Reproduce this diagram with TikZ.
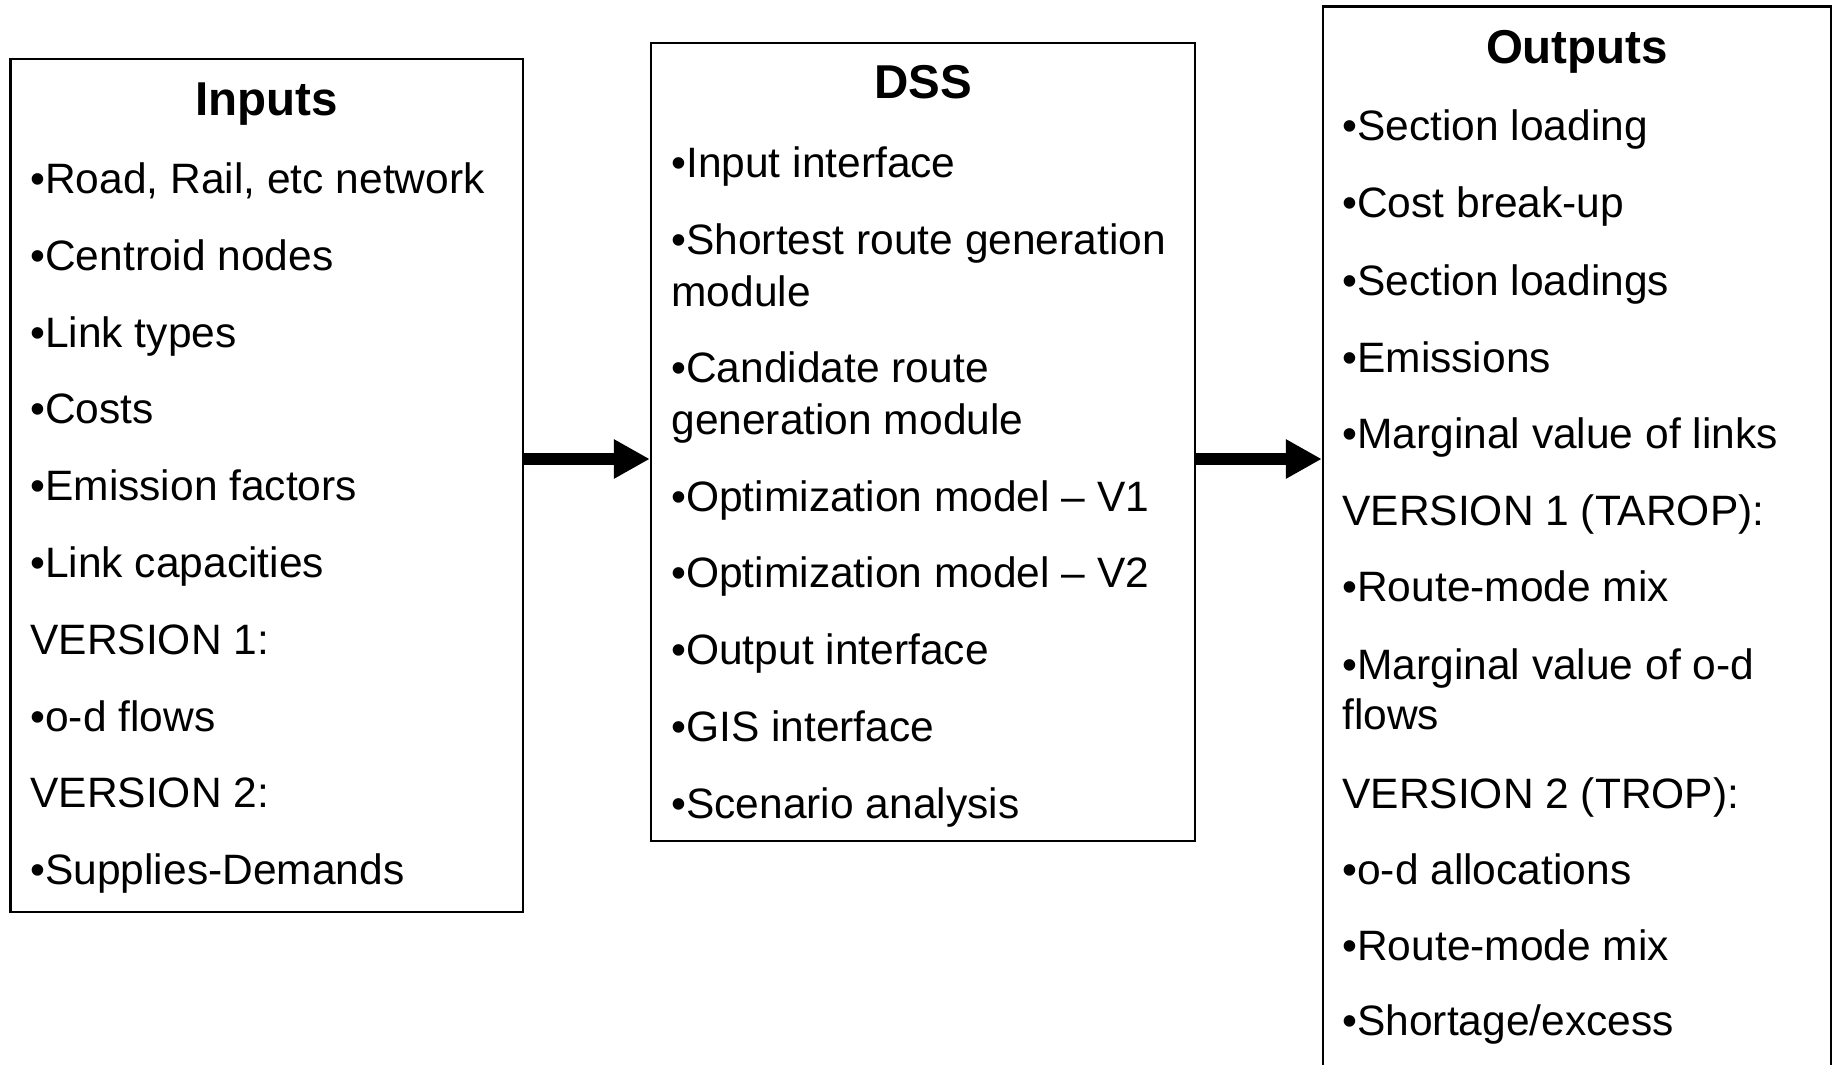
\documentclass[tikz,border=0pt]{standalone}
\usepackage{fontspec}
\setmainfont{Liberation Sans}
\usetikzlibrary{arrows.meta}
\begin{document}
\begin{tikzpicture}[x=0.5pt,y=-0.5pt,
  box/.style={draw=black, line width=1.2pt, inner sep=0pt, fill=white},
  itm/.style={anchor=base west, inner sep=0pt, font=\fontsize{21.25pt}{25pt}\selectfont},
  ttl/.style={anchor=base, inner sep=0pt, font=\fontsize{23.75pt}{28pt}\selectfont\bfseries},
  arr/.style={line width=6pt, -{Triangle[length=18pt,width=18.5pt]}}]
\clip (0,0) rectangle (1839,1064);
\fill[white] (0,0) rectangle (1839,1064);
% boxes
\node[box, minimum width=256.25pt, minimum height=426.5pt] (in) at (266.75,485.5) {};
\node[box, minimum width=272pt, minimum height=399pt] (dss) at (923,442) {};
\node[box, minimum width=254pt, minimum height=546.75pt] (out) at (1577,553.25) {};
% arrows
\coordinate (ay) at (0,459);
\draw[arr] (in.east |- ay) -- (dss.west |- ay);
\draw[arr] (dss.east |- ay) -- (out.west |- ay);
% Inputs
\node[ttl] (tin) at (266.75,116) {Inputs};
\node[itm] (i1) at (30,193) {•Road, Rail, etc network};
\node[itm] (i2) at (30,270) {•Centroid nodes};
\node[itm] (i3) at (30,347) {•Link types};
\node[itm] (i4) at (30,423) {•Costs};
\node[itm] (i5) at (30,500) {•Emission factors};
\node[itm] (i6) at (30,577) {•Link capacities};
\node[itm] (i7) at (30,654) {VERSION 1:};
\node[itm] (i8) at (30,731) {•o-d flows};
\node[itm] (i9) at (30,807) {VERSION 2:};
\node[itm] (i10) at (30,884) {•Supplies-Demands};
% DSS
\node[ttl] (tdss) at (923,99) {DSS};
\node[itm] (d1) at (671,177) {•Input interface};
\node[itm] (d2) at (671,254) {•Shortest route generation};
\node[itm] (d2b) at (671,306) {module};
\node[itm] (d3) at (671,382) {•Candidate route};
\node[itm] (d3b) at (671,434) {generation module};
\node[itm] (d4) at (671,511) {•Optimization model – V1};
\node[itm] (d5) at (671,587) {•Optimization model – V2};
\node[itm] (d6) at (671,664) {•Output interface};
\node[itm] (d7) at (671,741) {•GIS interface};
\node[itm] (d8) at (671,818) {•Scenario analysis};
% Outputs
\node[ttl] (tout) at (1577,64) {Outputs};
\node[itm] (o1) at (1342,141) {•Section loading};
\node[itm] (o2) at (1342,218) {•Cost break-up};
\node[itm] (o3) at (1342,295) {•Section loadings};
\node[itm] (o4) at (1342,372) {•Emissions};
\node[itm] (o5) at (1342,448) {•Marginal value of links};
\node[itm] (o6) at (1342,525) {VERSION 1 (TAROP):};
\node[itm] (o7) at (1342,601) {•Route-mode mix};
\node[itm] (o8) at (1342,679) {•Marginal value of o-d};
\node[itm] (o8b) at (1342,729) {flows};
\node[itm] (o9) at (1342,808) {VERSION 2 (TROP):};
\node[itm] (o10) at (1342,884) {•o-d allocations};
\node[itm] (o11) at (1342,960) {•Route-mode mix};
\node[itm] (o12) at (1342,1035) {•Shortage/excess};
\end{tikzpicture}
\end{document}
